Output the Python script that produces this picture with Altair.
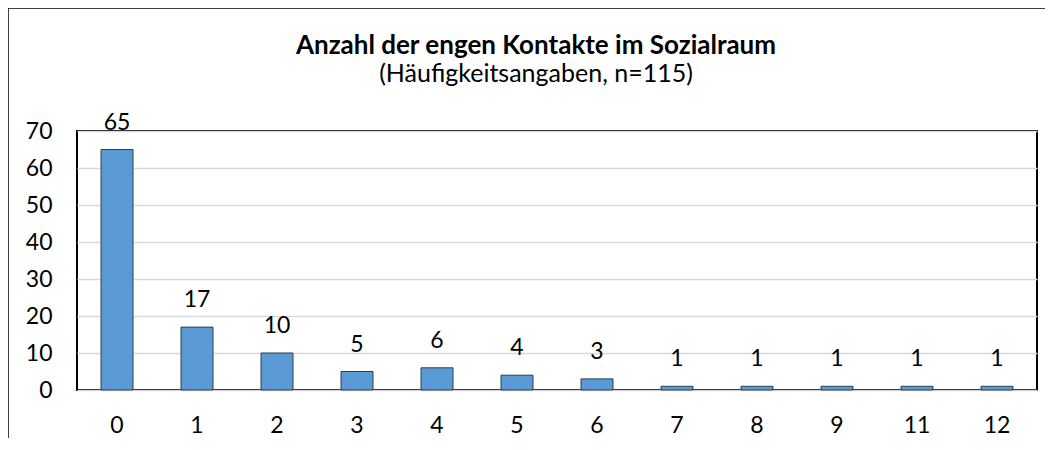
import altair as alt
import pandas as pd

categories = ["0", "1", "2", "3", "4", "5", "6", "7", "8", "9", "11", "12"]
counts = [65, 17, 10, 5, 6, 4, 3, 1, 1, 1, 1, 1]
y_ticks = [0, 10, 20, 30, 40, 50, 60, 70]
title_text = "Anzahl der engen Kontakte im Sozialraum"
subtitle_text = "(Häufigkeitsangaben, n=115)"

FONT = "Lato"
df = pd.DataFrame({"cat": categories, "n": counts})
one = pd.DataFrame({"k": [0]})

x_enc = alt.X("cat:N", sort=None, title=None,
              scale=alt.Scale(paddingInner=0.6, paddingOuter=0.3),
              axis=alt.Axis(labelAngle=0, labelFontSize=23, labelFont=FONT,
                            labelColor="black", labelPadding=24,
                            domain=False, ticks=False))
y_enc = alt.Y("n:Q", title=None,
              scale=alt.Scale(domain=[0, 70], nice=False),
              axis=alt.Axis(values=y_ticks, labelFontSize=23, labelFont=FONT,
                            labelColor="black", labelPadding=25,
                            labelOverlap=False,
                            domain=False, ticks=False,
                            gridColor="#D9D9D9", gridWidth=1.5))

base = alt.Chart(df).encode(x=x_enc, y=y_enc)
bars = base.mark_bar(color="#5B9BD5", stroke="#2F3F4F", strokeWidth=1)
labels = base.mark_text(fontSize=23, font=FONT, color="black",
                        baseline="alphabetic", dy=-20).encode(text="n:Q")

frame_top = alt.Chart(one).mark_rule(color="black", strokeWidth=1.5).encode(
    x=alt.value(-69), x2=alt.value(990), y=alt.value(-123))
frame_left = alt.Chart(one).mark_rule(color="black", strokeWidth=1.5).encode(
    x=alt.value(-69), y=alt.value(-123), y2=alt.value(330))

title = alt.Chart(one).mark_text(fontSize=26, font=FONT, fontWeight="bold",
                                 color="black", baseline="alphabetic").encode(
    x=alt.value(459), y=alt.value(-77), text=alt.value(title_text))
subtitle = alt.Chart(one).mark_text(fontSize=25, font=FONT, color="black",
                                    baseline="alphabetic").encode(
    x=alt.value(459), y=alt.value(-49), text=alt.value(subtitle_text))

chart = alt.layer(bars, labels, frame_top, frame_left, title, subtitle).properties(
    width=960, height=259,
    autosize=alt.AutoSizeParams(type="none"),
    padding={"left": 69, "top": 123, "right": 8, "bottom": 48},
).configure_view(stroke="black", strokeWidth=2)

chart.save("out.html", embed_options={"renderer": "svg", "actions": False})
